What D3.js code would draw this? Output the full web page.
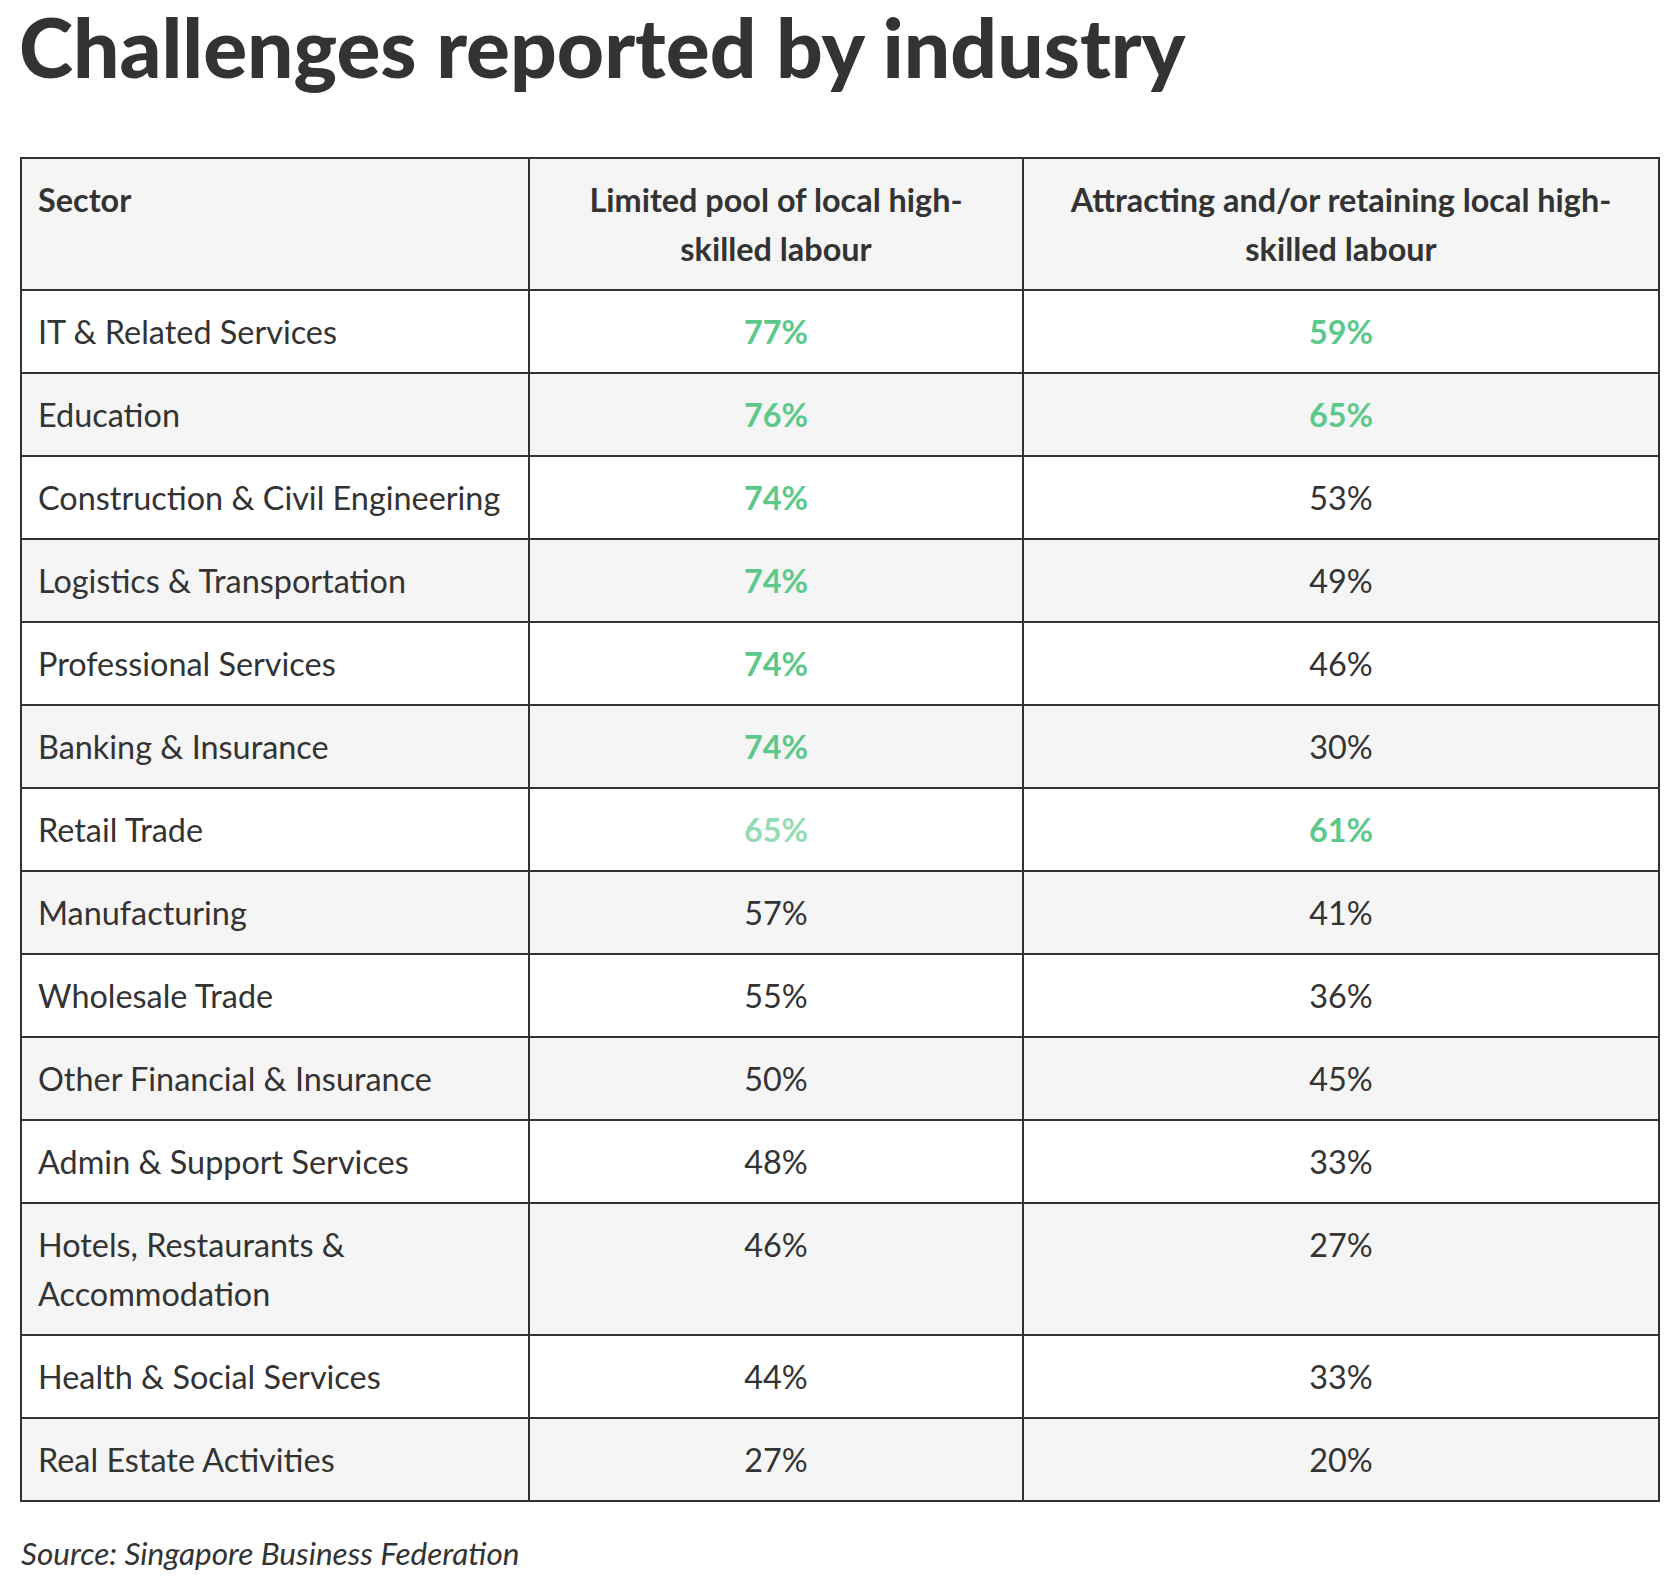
<!DOCTYPE html>
<html>
<head>
<meta charset="utf-8">
<script src="https://cdn.jsdelivr.net/npm/d3@7"></script>
<style>
  body { margin: 0; background: #fff; }
  svg { display: block; }
</style>
</head>
<body>
<script>
// table content
var title = "Challenges reported by industry";
var source = "Source: Singapore Business Federation";
var headers = ["Sector", "Limited pool of local high-skilled labour", "Attracting and/or retaining local high-skilled labour"];
var sectors = ["IT & Related Services", "Education", "Construction & Civil Engineering", "Logistics & Transportation",
  "Professional Services", "Banking & Insurance", "Retail Trade", "Manufacturing", "Wholesale Trade",
  "Other Financial & Insurance", "Admin & Support Services", "Hotels, Restaurants & Accommodation",
  "Health & Social Services", "Real Estate Activities"];
var limitedPool = [77, 76, 74, 74, 74, 74, 65, 57, 55, 50, 48, 46, 44, 27];
var attracting = [59, 65, 53, 49, 46, 30, 61, 41, 36, 45, 33, 27, 33, 20];
// how strongly each value is highlighted green (0 = plain)
var limitedTone = [1, 1, 1, 1, 1, 1, 0.65, 0, 0, 0, 0, 0, 0, 0];
var attractingTone = [1, 1, 0, 0, 0, 0, 1, 0, 0, 0, 0, 0, 0, 0];

var W = 1679, H = 1579;
var left = 21, right = 1659, top0 = 158;
var pad = 17, lineH = 49, fs = 32.4;
var ink = "#333333", green = "#5cc98a";

var svg = d3.select("body").append("svg")
  .attr("width", W)
  .attr("height", H);

// column edges
var cols = ["sector", "limited", "attracting"];
var colX = d3.scaleOrdinal().domain(cols).range([left, 529, 1023]);
function colW(c) {
  var i = cols.indexOf(c);
  return (i < cols.length - 1 ? colX(cols[i + 1]) : right) - colX(c);
}
var toneScale = d3.scaleLinear().domain([0, 1]).range(["#ffffff", green]);

// title
svg.append("text")
  .attr("x", left - 2)
  .attr("y", 78)
  .attr("font-family", "Lato, sans-serif")
  .attr("font-weight", 900)
  .attr("font-size", 82)
  .attr("fill", ink)
  .text(title);

// word wrap (breaks at spaces and after hyphens)
var meas = svg.append("text").attr("font-family", "Lato, sans-serif").attr("font-size", fs).attr("visibility", "hidden");
function wrap(str, maxW, weight) {
  meas.attr("font-weight", weight);
  var toks = [];
  str.split(" ").forEach(function(w, wi) {
    var parts = w.split(/(?<=-)/);
    parts.forEach(function(p, pi) { toks.push({t: p, sep: (pi == 0 && wi > 0) ? " " : ""}); });
  });
  var lines = [], cur = "";
  toks.forEach(function(tk) {
    var cand = cur === "" ? tk.t : cur + tk.sep + tk.t;
    meas.text(cand);
    if (cur !== "" && meas.node().getComputedTextLength() > maxW) {
      lines.push(cur);
      cur = tk.t;
    } else {
      cur = cand;
    }
  });
  lines.push(cur);
  return lines;
}

// build rows: header + one per sector
var rows = [{cells: headers, header: true, tones: [0, 0, 0]}];
sectors.forEach(function(s, i) {
  rows.push({cells: [s, limitedPool[i] + "%", attracting[i] + "%"], header: false,
    tones: [0, limitedTone[i], attractingTone[i]]});
});
var y = top0;
rows.forEach(function(r, i) {
  r.lines = r.cells.map(function(c, j) {
    return wrap(c, colW(cols[j]) - 2 * pad - 8, r.header ? 700 : 400);
  });
  var n = d3.max(r.lines, function(l) { return l.length; });
  r.y = y;
  r.h = n * lineH + 2 * pad;
  r.i = i;
  y += r.h;
});
meas.remove();
var bottom = y;

var g = svg.selectAll("g.row").data(rows).enter().append("g").attr("class", "row");

g.append("rect")
  .attr("x", left)
  .attr("y", function(d) { return d.y; })
  .attr("width", right - left)
  .attr("height", function(d) { return d.h; })
  .attr("fill", function(d) { return (d.i % 2 == 0) ? "#f5f5f5" : "#ffffff"; });

g.each(function(r) {
  var row = d3.select(this);
  cols.forEach(function(c, j) {
    var tone = r.tones[j];
    var t = row.append("text")
      .attr("font-family", "Lato, sans-serif")
      .attr("font-size", fs)
      .attr("font-weight", (r.header || tone > 0) ? 700 : 400)
      .attr("fill", tone > 0 ? toneScale(tone) : ink)
      .attr("text-anchor", j == 0 ? "start" : "middle");
    var tx = j == 0 ? colX(c) + pad : colX(c) + colW(c) / 2;
    t.selectAll("tspan").data(r.lines[j]).enter().append("tspan")
      .attr("x", tx)
      .attr("y", function(l, k) { return r.y + pad + lineH / 2 + fs * 0.38 + k * lineH; })
      .text(function(l) { return l; });
  });
});

// grid lines
var hLines = rows.map(function(r) { return r.y; }).concat([bottom]);
svg.selectAll("line.h").data(hLines).enter().append("line")
  .attr("x1", left).attr("x2", right)
  .attr("y1", function(d) { return d; }).attr("y2", function(d) { return d; })
  .attr("stroke", ink).attr("stroke-width", 2);
var vLines = cols.map(function(c) { return colX(c); }).concat([right]);
svg.selectAll("line.v").data(vLines).enter().append("line")
  .attr("y1", top0 - 1).attr("y2", bottom + 1)
  .attr("x1", function(d) { return d; }).attr("x2", function(d) { return d; })
  .attr("stroke", ink).attr("stroke-width", 2);

// source note
svg.append("text")
  .attr("x", left)
  .attr("y", bottom + 64)
  .attr("font-family", "Lato, sans-serif")
  .attr("font-style", "italic")
  .attr("font-size", 31.5)
  .attr("fill", ink)
  .text(source);
</script>
</body>
</html>
